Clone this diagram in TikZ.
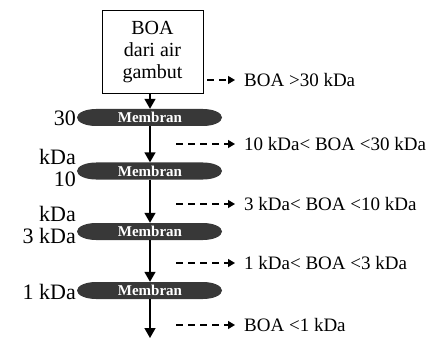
\documentclass[tikz,border=0pt]{standalone}
\usepackage{fontspec}
\setmainfont{Liberation Serif}
\usetikzlibrary{arrows.meta}

\begin{document}
\begin{tikzpicture}[x=1pt,y=-1pt,
        source/.style={draw, line width=1pt, fill=white, minimum width=101pt,
            minimum height=83pt, align=center, inner sep=1pt,
            font=\fontsize{20}{22}\selectfont},
        membran/.style={minimum width=144pt, minimum height=17pt, inner sep=0pt,
            text=white, font=\fontsize{15}{15}\selectfont\bfseries},
        body/.style={fill=black!78},
        cut/.style={anchor=east, inner sep=0pt, font=\fontsize{22}{22}\selectfont},
        fraksi/.style={anchor=west, inner xsep=9pt, inner ysep=0pt,
            font=\fontsize{19}{19}\selectfont},
        flow/.style={-{Triangle[width=11pt,length=10pt]}, line width=1.5pt},
        split/.style={-{Triangle[width=8pt,length=7pt]}, line width=1.3pt,
            dash pattern=on 7pt off 5pt}]

    \useasboundingbox (0,0) rectangle (433,339);

    % sampel awal
    \node [source] (boa) at (152.5,52.5) {BOA\\dari air\\gambut};

    % membran ultrafiltrasi
    \foreach \n/\y in {m1/117.5, m2/171, m3/231.5, m4/290.5} {
        \fill [body] (96,\y-8.5) -- (203,\y-8.5)
            arc [start angle=-90, end angle=90, x radius=19, y radius=8.5]
            -- (96,\y+8.5)
            arc [start angle=90, end angle=270, x radius=19, y radius=8.5] -- cycle;
        \node [membran] (\n) at (150,\y) {Membran};
    }

    % ukuran pori
    \node [cut] (c1) at (76,118) {30};
    \node [cut] (c1b) at (76,157) {kDa};
    \node [cut] (c2) at (76,179) {10};
    \node [cut] (c2b) at (76,214) {kDa};
    \node [cut] (c3) at (76,236) {3 kDa};
    \node [cut] (c4) at (76,292) {1 kDa};

    % fraksi
    \node [fraksi] (f0) at (235,80) {BOA >30 kDa};
    \node [fraksi] (f1) at (235,144) {10 kDa< BOA <30 kDa};
    \node [fraksi] (f2) at (235,204) {3 kDa< BOA <10 kDa};
    \node [fraksi] (f3) at (235,263) {1 kDa< BOA <3 kDa};
    \node [fraksi] (f4) at (235,325) {BOA <1 kDa};

    \coordinate (s0) at (207,80);
    \coordinate (s1) at (176,144);
    \coordinate (s2) at (176,204);
    \coordinate (s3) at (176,263);
    \coordinate (s4) at (176,325);
    \coordinate (out) at (150,338);

    % aliran
    \draw [flow] (boa.south -| m1.north) -- (m1.north);
    \draw [flow] (m1.south) -- (m2.north);
    \draw [flow] (m2.south) -- (m3.north);
    \draw [flow] (m3.south) -- (m4.north);
    \draw [flow] (m4.south) -- (out);

    \foreach \i in {0,...,4}
        \draw [split] (s\i) -- (f\i.west);

\end{tikzpicture}
\end{document}
